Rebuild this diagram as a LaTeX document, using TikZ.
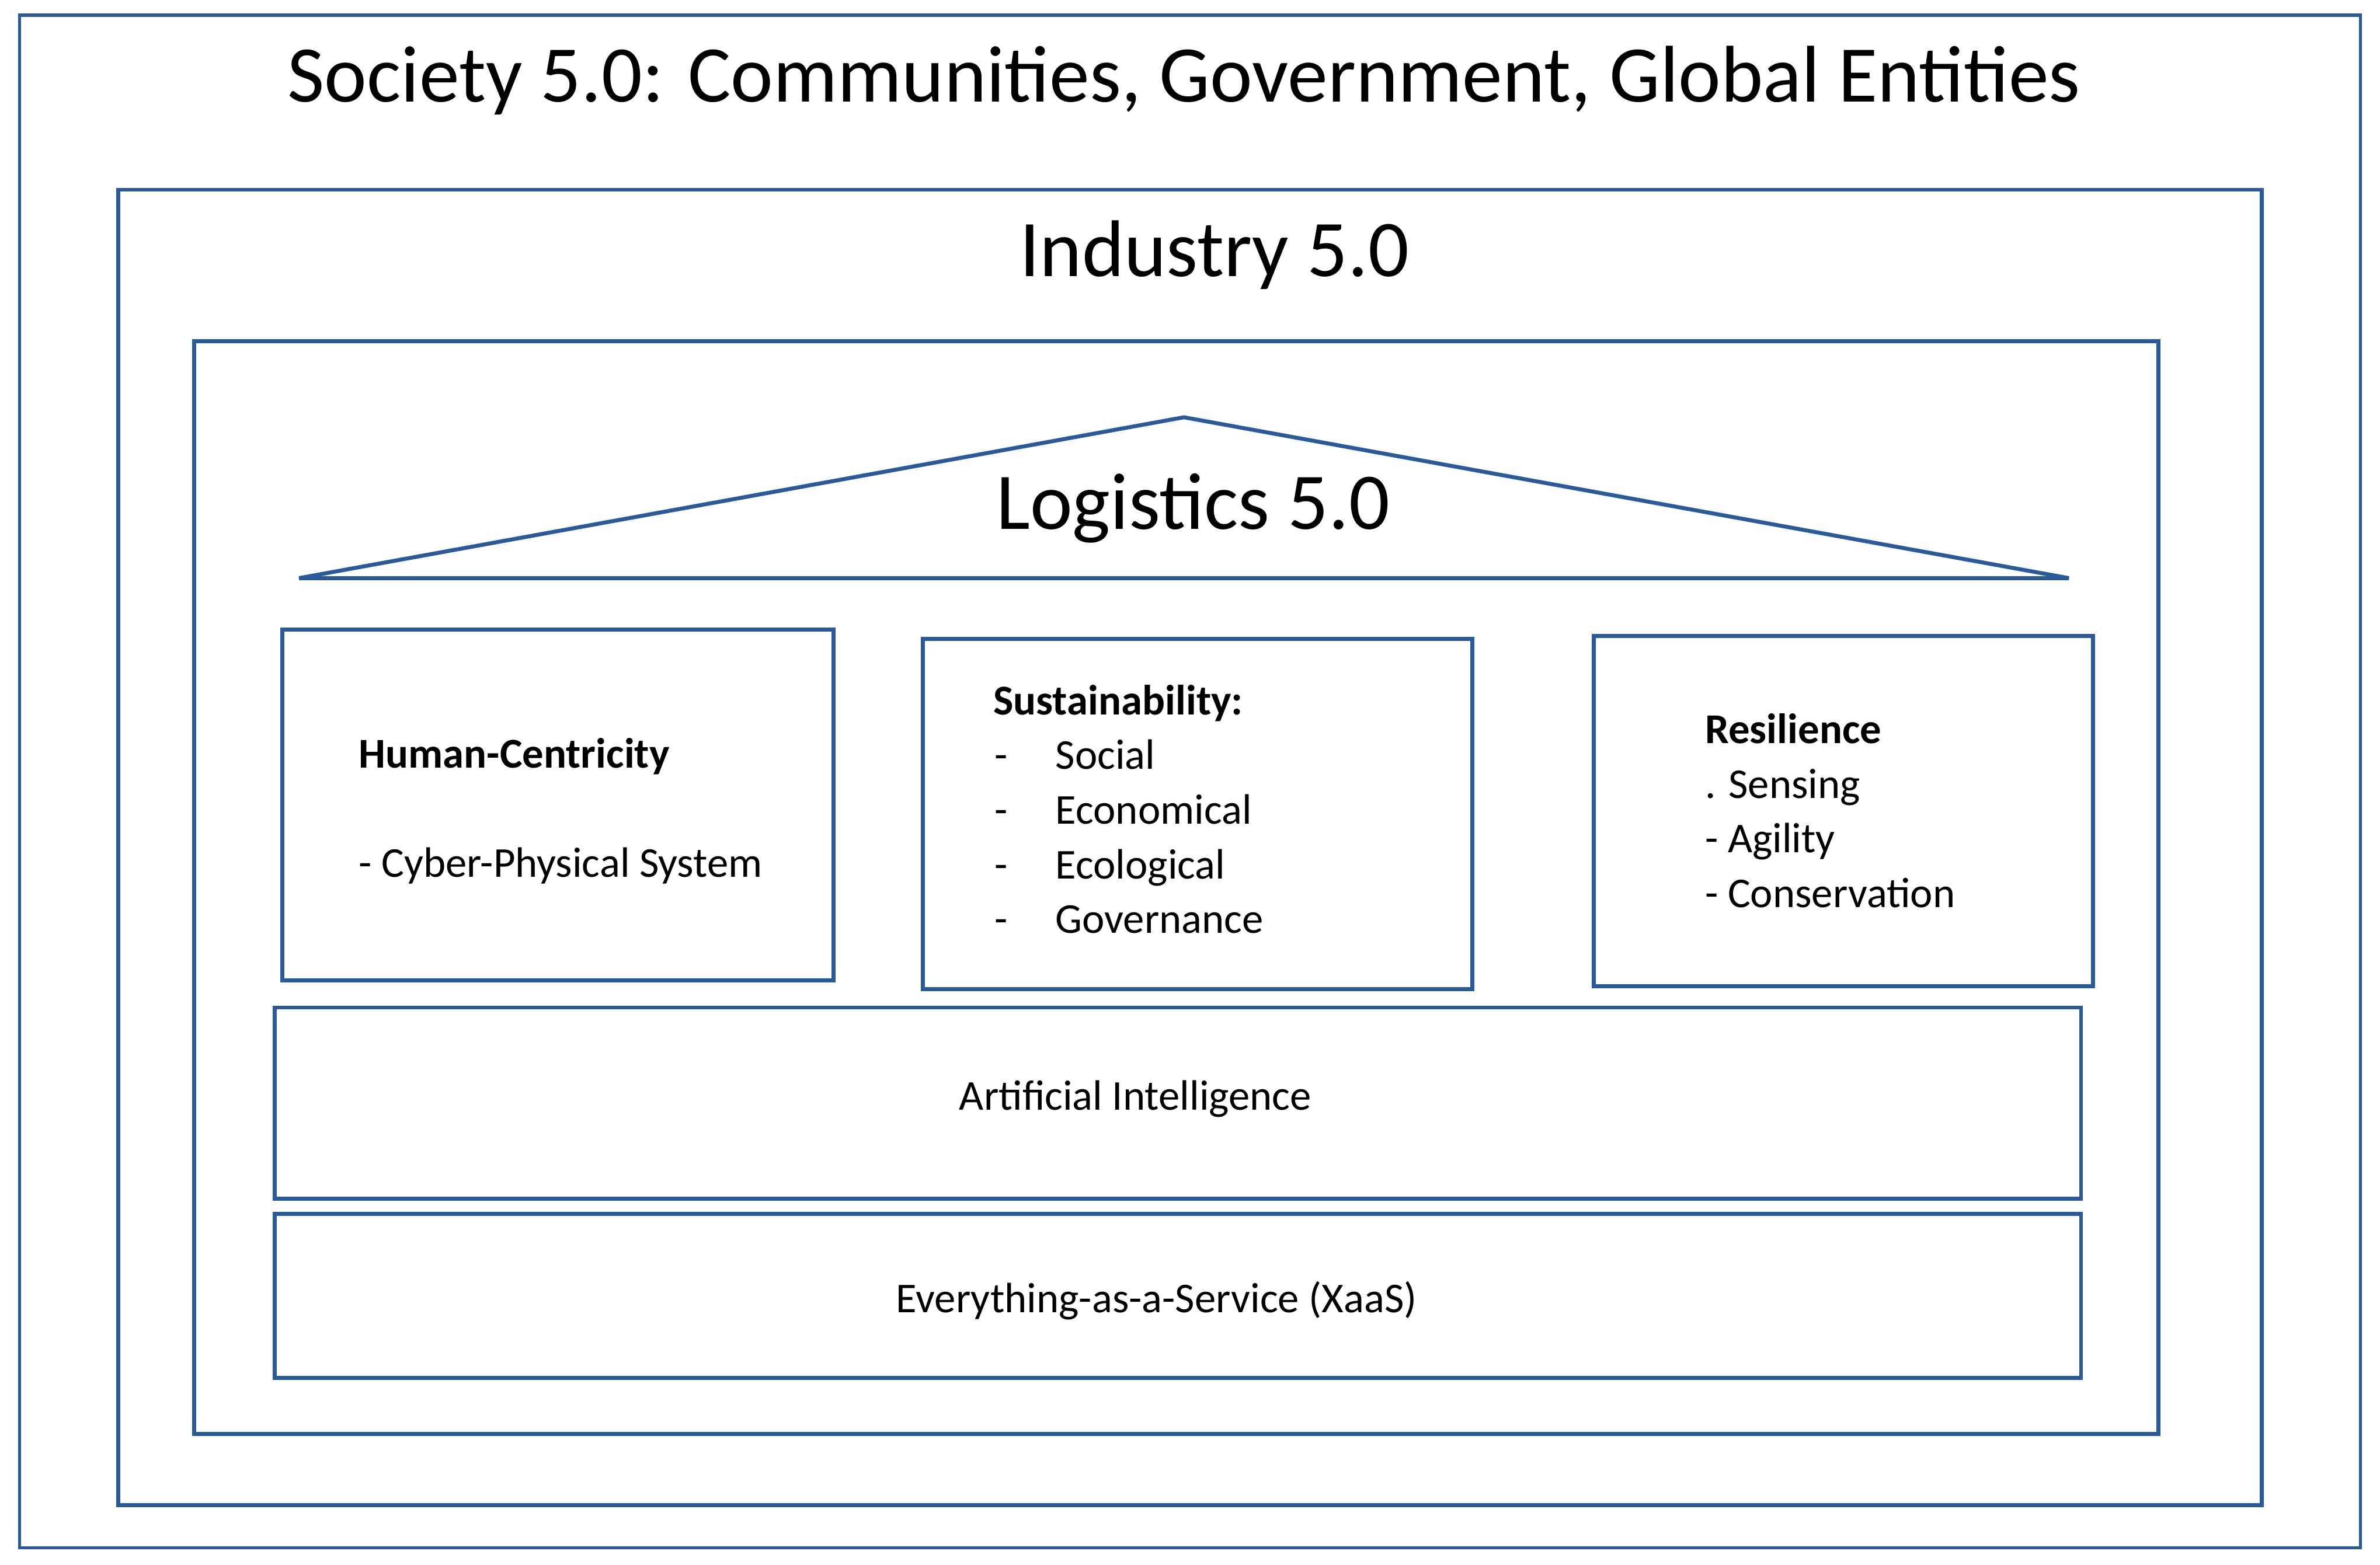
\documentclass[tikz,border=0pt]{standalone}
\usepackage{fontspec}
\setmainfont{Carlito}
\definecolor{lb}{HTML}{2A5A9C}
\begin{document}
\begin{tikzpicture}[x=0.5pt,y=-0.5pt,
  box/.style={draw=lb,line width=1.3pt},
  big/.style={font=\fontsize{26.5}{32}\selectfont},
  txt/.style={font=\fontsize{14}{17}\selectfont,anchor=west,inner sep=0,text height=10pt,text depth=3pt}]
\useasboundingbox[fill=white] (0,0) rectangle (1568,1031);
\draw[box,line width=1pt] (13,10) rectangle (1555,1020);
\node[big] (soc) at (780,53) {Society 5.0: Communities, Government, Global Entities};
\draw[box] (78,125) rectangle (1490,992);
\node[big] (ind) at (800,168) {Industry 5.0};
\draw[box] (128,225) rectangle (1422,945);
\draw[box] (197,381) -- (780,275) -- (1363,381) -- cycle;
\node[big] (log) at (786,335) {Logistics 5.0};
\draw[box] (186,415) rectangle (549,646);
\node[txt] (h1) at (236,499) {\textbf{Human-Centricity}};
\node[txt] (h2) at (236,571) {- Cyber-Physical System};
\draw[box] (608,421) rectangle (970,652);
\node[txt] (s0) at (654,464) {\textbf{Sustainability:}};
\foreach \y/\w [count=\i] in {500/Social,536/Economical,572/Ecological,608/Governance}{
  \node[txt] (sd\i) at (655,\y) {-};
  \node[txt] (sw\i) at (695,\y) {\w};
}
\draw[box] (1050,419) rectangle (1379,650);
\node[txt] (r0) at (1123,483) {\textbf{Resilience}};
\node[txt] (r1) at (1123,519) {. Sensing};
\node[txt] (r2) at (1123,555) {- Agility};
\node[txt] (r3) at (1123,591) {- Conservation};
\draw[box] (181,664) rectangle (1371,790);
\node[font=\fontsize{14}{17}\selectfont] (ai) at (748,724) {Artificial Intelligence};
\draw[box] (181,800) rectangle (1371,908);
\node[font=\fontsize{14}{17}\selectfont] (xs) at (762,857) {Everything-as-a-Service (XaaS)};
\end{tikzpicture}
\end{document}
